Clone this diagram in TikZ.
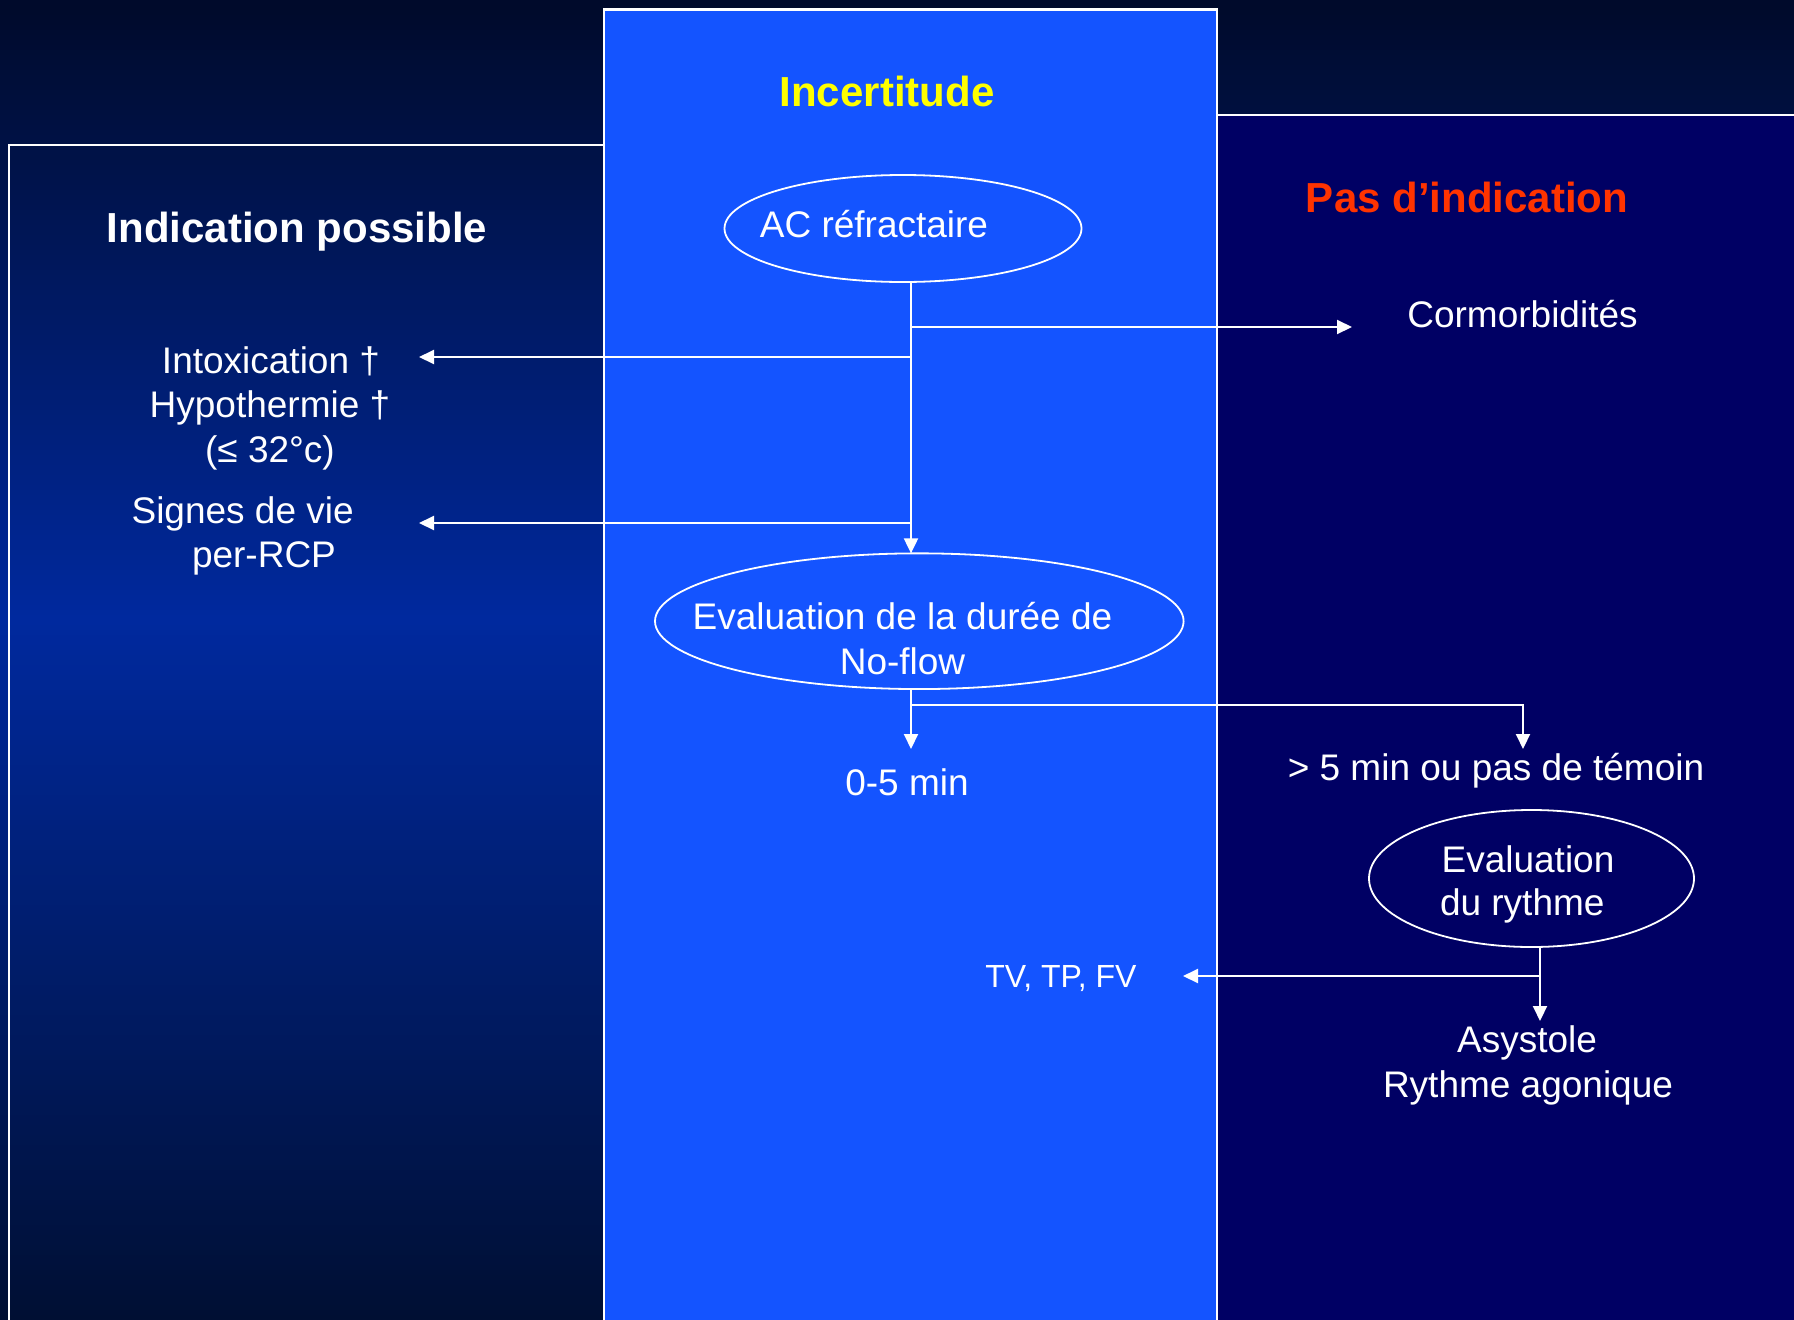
\documentclass[tikz,border=0pt]{standalone}
\usepackage{fontspec}
\setmainfont{Liberation Sans}
\usetikzlibrary{arrows.meta,shapes.geometric}
\definecolor{bgtop}{HTML}{000A2A}
\definecolor{bgmid}{HTML}{00299E}
\definecolor{bgbot}{HTML}{000F33}
\definecolor{midblue}{HTML}{1454FF}
\definecolor{navypanel}{HTML}{000064}
\definecolor{titleyellow}{HTML}{FFFF00}
\definecolor{titlered}{HTML}{FF3300}

\begin{document}
\begin{tikzpicture}[x=1pt,y=-1pt,
  txt/.style={text=white, inner sep=0pt, outer sep=0pt,
    font=\fontsize{37}{44}\selectfont, anchor=base},
  smalltxt/.style={txt, font=\fontsize{32}{38}\selectfont},
  headtxt/.style={txt, font=\fontsize{42}{50}\selectfont\bfseries},
  ovalnode/.style={ellipse, draw=white, line width=1.8pt, inner sep=0pt, outer sep=0pt},
  linkline/.style={draw=white, line width=2pt},
  arr/.style={linkline, -{Triangle[length=15pt,width=14pt]}},
  panelrule/.style={draw=white, line width=2.2pt}]

% page background: vertical gradient, dark at top and bottom, brightest near y=620
\useasboundingbox (0,0) rectangle (1794,1320);
\foreach \i in {0,...,263} {
  \pgfmathsetmacro\ytop{5*\i}
  \pgfmathsetmacro\yc{\ytop+2.5}
  \ifdim \yc pt<620pt
    \pgfmathsetmacro\p{\yc/6.2}
    \fill[bgmid!\p!bgtop] (0,\ytop) rectangle (1794,\ytop+5.6);
  \else
    \pgfmathsetmacro\p{(\yc-620)/7}
    \fill[bgbot!\p!bgmid] (0,\ytop) rectangle (1794,\ytop+5.6);
  \fi
}

% the two coloured columns and the column rules
\fill[midblue] (604,9.5) rectangle (1217,1320);
\fill[navypanel] (1217,115) rectangle (1794,1320);
\draw[panelrule] (9,1321) -- (9,145) -- (604,145);
\draw[panelrule] (604,1321) -- (604,9.5) -- (1217,9.5) -- (1217,1321);
\draw[panelrule] (1217,115) -- (1795,115);

% column headings
\node[headtxt, text=titleyellow] (hInc) at (887,106) {Incertitude};
\node[headtxt] (hInd) at (297,242) {Indication possible};
\node[headtxt, text=titlered] (hPas) at (1467,212) {Pas d’indication};

% decision ellipses
\node[ovalnode, minimum width=357pt, minimum height=107pt] (ac) at (903,228.5) {};
\node[txt] (acT) at (874,237) {AC réfractaire};
\node[ovalnode, minimum width=528.6pt, minimum height=135.7pt] (eval) at (919.3,621.2) {};
\node[txt] (evalT1) at (902.5,629.3) {Evaluation de la durée de};
\node[txt] (evalT2) at (902.5,674) {No-flow};
\node[ovalnode, minimum width=325pt, minimum height=137pt] (rythme) at (1531.5,878.5) {};
\node[txt, anchor=base west] (ryT1) at (1441.6,872) {Evaluation};
\node[txt, anchor=base west] (ryT2) at (1440,915) {du rythme};

% outcome labels
\node[txt] (cormo) at (1522.5,327) {Cormorbidités};
\node[txt] (intox) at (271,373) {Intoxication †};
\node[txt] (hypo) at (270,417) {Hypothermie †};
\node[txt] (temp) at (270,462) {(≤ 32°c)};
\node[txt, anchor=base west] (signes) at (131.6,523) {Signes de vie};
\node[txt, anchor=base west] (perrcp) at (192,567) {per-RCP};
\node[txt] (zero) at (907,795) {0-5 min};
\node[txt] (plus) at (1496,780) {> 5 min ou pas de témoin};
\node[smalltxt] (tv) at (1061,987) {TV, TP, FV};
\node[txt] (asys) at (1527,1052) {Asystole};
\node[txt] (agon) at (1528,1097) {Rythme agonique};

% junctions and arrow ends
\coordinate (t) at (911,0);
\coordinate (jc) at (911,327);
\coordinate (cmIn) at (1352,327);
\coordinate (ji) at (911,357);
\coordinate (ixIn) at (419,357);
\coordinate (js) at (911,523);
\coordinate (sgIn) at (419,523);
\coordinate (jn) at (911,705);
\coordinate (zIn) at (911,749);
\coordinate (gIn) at (1523,749);
\coordinate (jr) at (1540,976);
\coordinate (tvIn) at (1183,976);
\coordinate (asIn) at (1540,1021);

% connectors
\draw[arr] (ac.south -| t) -- (eval.north -| t);
\draw[arr] (jc) -- (cmIn);
\draw[arr] (ji) -- (ixIn);
\draw[arr] (js) -- (sgIn);
\draw[arr] (eval.south -| t) -- (zIn);
\draw[arr] (jn) -| (gIn);
\draw[arr] (rythme.south -| jr) -- (asIn);
\draw[arr] (jr) -- (tvIn);
\end{tikzpicture}
\end{document}
